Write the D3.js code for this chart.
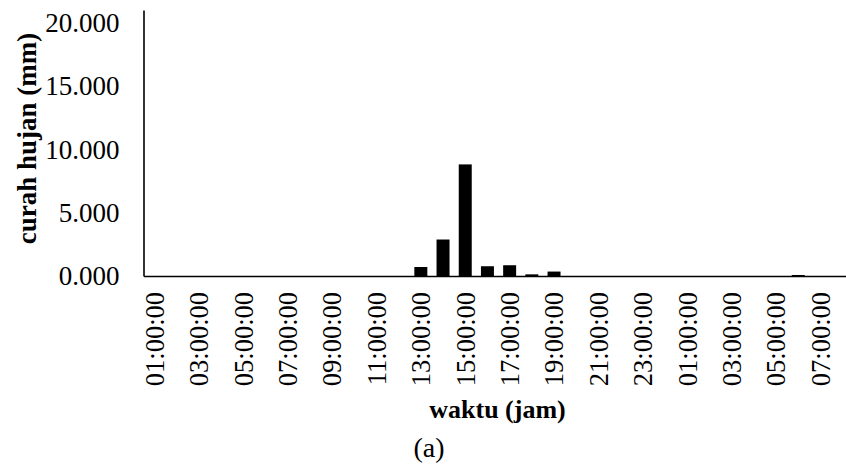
<!DOCTYPE html>
<html>
<head>
<meta charset="utf-8">
<script src="https://cdn.jsdelivr.net/npm/d3@7"></script>
<style>
  html, body { margin: 0; padding: 0; background: #fff; }
  svg { display: block; font-family: "Liberation Serif", "Times New Roman", serif; }
</style>
</head>
<body>
<svg id="chart" width="846" height="466"></svg>
<script>
// hourly categories, 01:00 day 1 .. 08:00 day 2
const timeLabels = [
  '01:00:00', '02:00:00', '03:00:00', '04:00:00', '05:00:00', '06:00:00',
  '07:00:00', '08:00:00', '09:00:00', '10:00:00', '11:00:00', '12:00:00',
  '13:00:00', '14:00:00', '15:00:00', '16:00:00', '17:00:00', '18:00:00',
  '19:00:00', '20:00:00', '21:00:00', '22:00:00', '23:00:00', '00:00:00',
  '01:00:00', '02:00:00', '03:00:00', '04:00:00', '05:00:00', '06:00:00',
  '07:00:00', '08:00:00'
];

// rainfall (mm) per hour
const rainfall = [
  0, 0, 0, 0, 0, 0, 0, 0, 0, 0, 0, 0,
  0.71, 2.88, 8.81, 0.77, 0.85, 0.13, 0.35, 0, 0, 0, 0, 0,
  0, 0, 0, 0, 0, 0.08, 0, 0
];

const yTicks = [0, 5, 10, 15, 20];

const FONT = '"Liberation Serif", "Times New Roman", serif';
const svg = d3.select('#chart');
const margin = { left: 143.5, top: 10, bottom: 276 };
const band = 22.19;

const x = d3.scaleBand()
  .domain(d3.range(timeLabels.length))
  .range([margin.left, margin.left + band * timeLabels.length])
  .paddingInner(0.415)
  .paddingOuter(0.2);

const y = d3.scaleLinear()
  .domain([0, 21])
  .range([margin.bottom, margin.top]);

// bars
svg.append('g')
  .selectAll('rect')
  .data(rainfall)
  .join('rect')
  .attr('x', (d, i) => x(i))
  .attr('width', x.bandwidth())
  .attr('y', d => y(d))
  .attr('height', d => y(0) - y(d))
  .attr('fill', '#000');

// y axis
const yAxis = svg.append('g')
  .attr('transform', `translate(${margin.left},0)`)
  .call(d3.axisLeft(y).tickValues(yTicks).tickSize(0).tickPadding(24).tickFormat(d3.format('.3f')));
yAxis.attr('font-family', FONT);
yAxis.select('.domain').attr('stroke', '#000').attr('stroke-width', 1.6);
yAxis.selectAll('text').attr('font-size', 27).attr('fill', '#000').attr('dy', '0.33em');

// x axis
const xAxis = svg.append('g')
  .attr('transform', `translate(0,${y(0)})`)
  .call(d3.axisBottom(x)
    .tickValues(d3.range(0, timeLabels.length, 2))
    .tickFormat(i => timeLabels[i])
    .tickSize(0));
xAxis.attr('font-family', FONT);
xAxis.select('.domain').attr('stroke', '#000').attr('stroke-width', 1.6);
xAxis.selectAll('text')
  .attr('font-size', 26.5)
  .attr('fill', '#000')
  .attr('text-anchor', 'end')
  .attr('transform', 'rotate(-90)')
  .attr('x', -16)
  .attr('y', 0)
  .attr('dy', '0.35em');

// axis titles
svg.append('text')
  .attr('transform', 'translate(36,138.5) rotate(-90)')
  .attr('text-anchor', 'middle')
  .attr('font-size', 27)
  .attr('font-weight', 'bold')
  .text('curah hujan (mm)');

svg.append('text')
  .attr('x', 497.5)
  .attr('y', 418)
  .attr('text-anchor', 'middle')
  .attr('font-size', 26)
  .attr('font-weight', 'bold')
  .text('waktu (jam)');

svg.append('text')
  .attr('x', 429)
  .attr('y', 457)
  .attr('text-anchor', 'middle')
  .attr('font-size', 28)
  .text('(a)');
</script>
</body>
</html>
